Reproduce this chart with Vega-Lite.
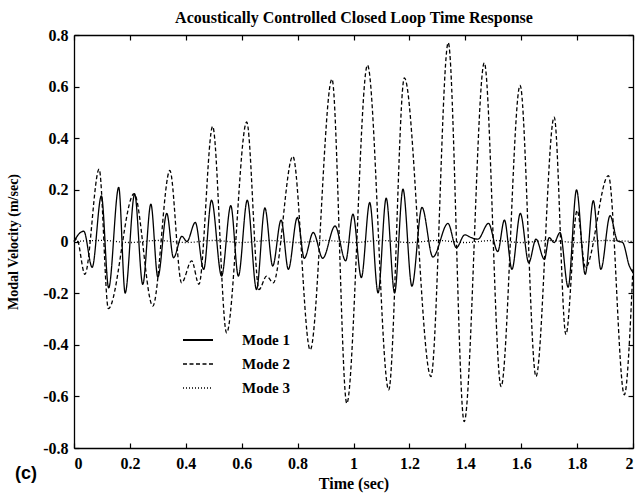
{
  "$schema": "https://vega.github.io/schema/vega-lite/v6.json",
  "width": 559,
  "height": 413,
  "autosize": {"type": "none"},
  "padding": {"left": 74, "top": 35, "right": 3, "bottom": 53},
  "background": "white",
  "config": {
    "view": {"stroke": null},
    "font": "Liberation Serif",
    "axis": {
      "grid": false,
      "domainColor": "black",
      "domainWidth": 1.3,
      "tickColor": "black",
      "tickWidth": 1.2,
      "tickSize": -5,
      "labelFont": "Liberation Serif",
      "labelFontSize": 16,
      "labelFontWeight": "bold",
      "labelColor": "black",
      "titleFont": "Liberation Serif",
      "titleFontSize": 15,
      "titleFontWeight": "bold",
      "titleColor": "black"
    }
  },
  "title": {
    "text": "(c)",
    "orient": "bottom",
    "anchor": "start",
    "frame": "group",
    "font": "Liberation Sans",
    "fontSize": 18,
    "fontWeight": "bold",
    "color": "black",
    "dx": -59,
    "dy": -30
  },
  "datasets": {
    "m": [
      {"t": 0, "v": 0.0, "mode": "Mode 1"},
      {"t": 0.005, "v": 0.01, "mode": "Mode 1"},
      {"t": 0.035, "v": 0.04, "mode": "Mode 1"},
      {"t": 0.065, "v": -0.10, "mode": "Mode 1"},
      {"t": 0.098, "v": 0.177, "mode": "Mode 1"},
      {"t": 0.124, "v": -0.18, "mode": "Mode 1"},
      {"t": 0.160, "v": 0.21, "mode": "Mode 1"},
      {"t": 0.183, "v": -0.20, "mode": "Mode 1"},
      {"t": 0.217, "v": 0.184, "mode": "Mode 1"},
      {"t": 0.246, "v": -0.166, "mode": "Mode 1"},
      {"t": 0.275, "v": 0.145, "mode": "Mode 1"},
      {"t": 0.300, "v": -0.138, "mode": "Mode 1"},
      {"t": 0.332, "v": 0.109, "mode": "Mode 1"},
      {"t": 0.356, "v": -0.063, "mode": "Mode 1"},
      {"t": 0.386, "v": 0.02, "mode": "Mode 1"},
      {"t": 0.404, "v": 0.0, "mode": "Mode 1"},
      {"t": 0.434, "v": 0.074, "mode": "Mode 1"},
      {"t": 0.464, "v": -0.108, "mode": "Mode 1"},
      {"t": 0.492, "v": 0.16, "mode": "Mode 1"},
      {"t": 0.528, "v": -0.134, "mode": "Mode 1"},
      {"t": 0.561, "v": 0.139, "mode": "Mode 1"},
      {"t": 0.588, "v": -0.134, "mode": "Mode 1"},
      {"t": 0.620, "v": 0.16, "mode": "Mode 1"},
      {"t": 0.653, "v": -0.186, "mode": "Mode 1"},
      {"t": 0.683, "v": 0.13, "mode": "Mode 1"},
      {"t": 0.711, "v": -0.095, "mode": "Mode 1"},
      {"t": 0.741, "v": 0.083, "mode": "Mode 1"},
      {"t": 0.767, "v": -0.108, "mode": "Mode 1"},
      {"t": 0.799, "v": 0.093, "mode": "Mode 1"},
      {"t": 0.824, "v": -0.065, "mode": "Mode 1"},
      {"t": 0.856, "v": 0.035, "mode": "Mode 1"},
      {"t": 0.890, "v": -0.065, "mode": "Mode 1"},
      {"t": 0.934, "v": 0.06, "mode": "Mode 1"},
      {"t": 0.972, "v": -0.075, "mode": "Mode 1"},
      {"t": 0.998, "v": 0.106, "mode": "Mode 1"},
      {"t": 1.028, "v": -0.14, "mode": "Mode 1"},
      {"t": 1.058, "v": 0.151, "mode": "Mode 1"},
      {"t": 1.088, "v": -0.199, "mode": "Mode 1"},
      {"t": 1.117, "v": 0.168, "mode": "Mode 1"},
      {"t": 1.147, "v": -0.199, "mode": "Mode 1"},
      {"t": 1.177, "v": 0.203, "mode": "Mode 1"},
      {"t": 1.209, "v": -0.173, "mode": "Mode 1"},
      {"t": 1.245, "v": 0.132, "mode": "Mode 1"},
      {"t": 1.284, "v": -0.06, "mode": "Mode 1"},
      {"t": 1.338, "v": 0.07, "mode": "Mode 1"},
      {"t": 1.368, "v": -0.024, "mode": "Mode 1"},
      {"t": 1.398, "v": 0.026, "mode": "Mode 1"},
      {"t": 1.421, "v": 0.015, "mode": "Mode 1"},
      {"t": 1.445, "v": 0.009, "mode": "Mode 1"},
      {"t": 1.483, "v": 0.07, "mode": "Mode 1"},
      {"t": 1.516, "v": -0.039, "mode": "Mode 1"},
      {"t": 1.540, "v": 0.083, "mode": "Mode 1"},
      {"t": 1.567, "v": -0.108, "mode": "Mode 1"},
      {"t": 1.597, "v": 0.109, "mode": "Mode 1"},
      {"t": 1.627, "v": -0.082, "mode": "Mode 1"},
      {"t": 1.653, "v": 0.009, "mode": "Mode 1"},
      {"t": 1.683, "v": -0.069, "mode": "Mode 1"},
      {"t": 1.700, "v": 0.015, "mode": "Mode 1"},
      {"t": 1.718, "v": -0.004, "mode": "Mode 1"},
      {"t": 1.739, "v": 0.035, "mode": "Mode 1"},
      {"t": 1.768, "v": -0.177, "mode": "Mode 1"},
      {"t": 1.798, "v": 0.2, "mode": "Mode 1"},
      {"t": 1.829, "v": -0.127, "mode": "Mode 1"},
      {"t": 1.858, "v": 0.158, "mode": "Mode 1"},
      {"t": 1.885, "v": -0.108, "mode": "Mode 1"},
      {"t": 1.918, "v": 0.1, "mode": "Mode 1"},
      {"t": 1.945, "v": 0.002, "mode": "Mode 1"},
      {"t": 1.963, "v": -0.004, "mode": "Mode 1"},
      {"t": 1.987, "v": -0.095, "mode": "Mode 1"},
      {"t": 2.0, "v": -0.12, "mode": "Mode 1"},

      {"t": 0, "v": 0.0, "mode": "Mode 2"},
      {"t": 0.010, "v": 0.01, "mode": "Mode 2"},
      {"t": 0.039, "v": -0.127, "mode": "Mode 2"},
      {"t": 0.090, "v": 0.28, "mode": "Mode 2"},
      {"t": 0.123, "v": -0.26, "mode": "Mode 2"},
      {"t": 0.215, "v": 0.185, "mode": "Mode 2"},
      {"t": 0.282, "v": -0.25, "mode": "Mode 2"},
      {"t": 0.343, "v": 0.275, "mode": "Mode 2"},
      {"t": 0.385, "v": -0.16, "mode": "Mode 2"},
      {"t": 0.421, "v": -0.075, "mode": "Mode 2"},
      {"t": 0.447, "v": -0.166, "mode": "Mode 2"},
      {"t": 0.496, "v": 0.446, "mode": "Mode 2"},
      {"t": 0.546, "v": -0.354, "mode": "Mode 2"},
      {"t": 0.618, "v": 0.463, "mode": "Mode 2"},
      {"t": 0.662, "v": -0.186, "mode": "Mode 2"},
      {"t": 0.689, "v": -0.134, "mode": "Mode 2"},
      {"t": 0.713, "v": -0.16, "mode": "Mode 2"},
      {"t": 0.783, "v": 0.33, "mode": "Mode 2"},
      {"t": 0.845, "v": -0.42, "mode": "Mode 2"},
      {"t": 0.923, "v": 0.629, "mode": "Mode 2"},
      {"t": 0.976, "v": -0.627, "mode": "Mode 2"},
      {"t": 1.050, "v": 0.683, "mode": "Mode 2"},
      {"t": 1.126, "v": -0.575, "mode": "Mode 2"},
      {"t": 1.182, "v": 0.634, "mode": "Mode 2"},
      {"t": 1.277, "v": -0.523, "mode": "Mode 2"},
      {"t": 1.339, "v": 0.77, "mode": "Mode 2"},
      {"t": 1.396, "v": -0.698, "mode": "Mode 2"},
      {"t": 1.468, "v": 0.692, "mode": "Mode 2"},
      {"t": 1.528, "v": -0.562, "mode": "Mode 2"},
      {"t": 1.596, "v": 0.605, "mode": "Mode 2"},
      {"t": 1.653, "v": -0.523, "mode": "Mode 2"},
      {"t": 1.718, "v": 0.482, "mode": "Mode 2"},
      {"t": 1.760, "v": -0.36, "mode": "Mode 2"},
      {"t": 1.800, "v": 0.12, "mode": "Mode 2"},
      {"t": 1.830, "v": -0.1, "mode": "Mode 2"},
      {"t": 1.912, "v": 0.255, "mode": "Mode 2"},
      {"t": 1.969, "v": -0.594, "mode": "Mode 2"},
      {"t": 2.0, "v": -0.1, "mode": "Mode 2"},

      {"t": 0, "v": 0.0, "mode": "Mode 3"},
      {"t": 0.1, "v": 0.004, "mode": "Mode 3"},
      {"t": 0.2, "v": -0.004, "mode": "Mode 3"},
      {"t": 0.3, "v": 0.004, "mode": "Mode 3"},
      {"t": 0.4, "v": -0.004, "mode": "Mode 3"},
      {"t": 0.5, "v": 0.004, "mode": "Mode 3"},
      {"t": 0.6, "v": -0.004, "mode": "Mode 3"},
      {"t": 0.7, "v": 0.004, "mode": "Mode 3"},
      {"t": 0.8, "v": -0.004, "mode": "Mode 3"},
      {"t": 0.9, "v": 0.004, "mode": "Mode 3"},
      {"t": 1.0, "v": -0.004, "mode": "Mode 3"},
      {"t": 1.1, "v": 0.004, "mode": "Mode 3"},
      {"t": 1.2, "v": -0.004, "mode": "Mode 3"},
      {"t": 1.3, "v": 0.004, "mode": "Mode 3"},
      {"t": 1.4, "v": -0.004, "mode": "Mode 3"},
      {"t": 1.5, "v": 0.004, "mode": "Mode 3"},
      {"t": 1.6, "v": -0.004, "mode": "Mode 3"},
      {"t": 1.7, "v": 0.004, "mode": "Mode 3"},
      {"t": 1.8, "v": -0.004, "mode": "Mode 3"},
      {"t": 1.9, "v": 0.004, "mode": "Mode 3"},
      {"t": 2.0, "v": 0.0, "mode": "Mode 3"}
    ]
  },
  "data": {"name": "m"},
  "layer": [
    {
      "mark": {"type": "line", "interpolate": "monotone", "color": "black", "strokeWidth": 1.3},
      "encoding": {
        "x": {
          "field": "t", "type": "quantitative",
          "scale": {"domain": [0, 2], "nice": false, "zero": false},
          "axis": {
            "orient": "bottom",
            "values": [0, 0.2, 0.4, 0.6, 0.8, 1, 1.2, 1.4, 1.6, 1.8, 2],
            "labelExpr": "format(datum.value, '~g')",
            "labelPadding": 12,
            "title": "Time (sec)",
            "titleFontSize": 16,
            "titlePadding": 4
          }
        },
        "y": {
          "field": "v", "type": "quantitative",
          "scale": {"domain": [-0.8, 0.8], "nice": false, "zero": false},
          "axis": {
            "orient": "left",
            "values": [-0.8, -0.6, -0.4, -0.2, 0, 0.2, 0.4, 0.6, 0.8],
            "labelExpr": "replace(format(datum.value, '~g'), '\u2212', '-')",
            "labelPadding": 11,
            "title": "Modal Velocity (m/sec)",
            "titleFontSize": 14,
            "titlePadding": 22
          }
        },
        "strokeDash": {
          "field": "mode", "type": "nominal",
          "scale": {"domain": ["Mode 1", "Mode 2", "Mode 3"], "range": [[1, 0], [4, 2.5], [1, 2]]},
          "legend": {
            "orient": "none",
            "legendX": 108,
            "legendY": 289,
            "title": null,
            "symbolType": "stroke",
            "symbolSize": 900,
            "symbolStrokeWidth": 1.2,
            "symbolStrokeColor": "black",
            "labelFont": "Liberation Serif",
            "labelFontSize": 15,
            "labelFontWeight": "bold",
            "labelColor": "black",
            "labelOffset": 28,
            "rowPadding": -17
          }
        },
        "strokeWidth": {
          "field": "mode", "type": "nominal",
          "scale": {"domain": ["Mode 1", "Mode 2", "Mode 3"], "range": [1.9, 1.3, 0.8]},
          "legend": null
        }
      }
    },
    {
      "mark": {"type": "line", "opacity": 0},
      "encoding": {
        "x": {
          "field": "t", "type": "quantitative",
          "axis": {
            "orient": "top",
            "values": [0, 0.2, 0.4, 0.6, 0.8, 1, 1.2, 1.4, 1.6, 1.8, 2],
            "labels": false,
            "title": "Acoustically Controlled Closed Loop Time Response",
            "titleFontSize": 16,
            "titlePadding": 9
          }
        },
        "y": {
          "field": "v", "type": "quantitative",
          "axis": {
            "orient": "right",
            "values": [-0.8, -0.6, -0.4, -0.2, 0, 0.2, 0.4, 0.6, 0.8],
            "labels": false,
            "title": null
          }
        }
      }
    }
  ],
  "resolve": {"axis": {"x": "independent", "y": "independent"}}
}
